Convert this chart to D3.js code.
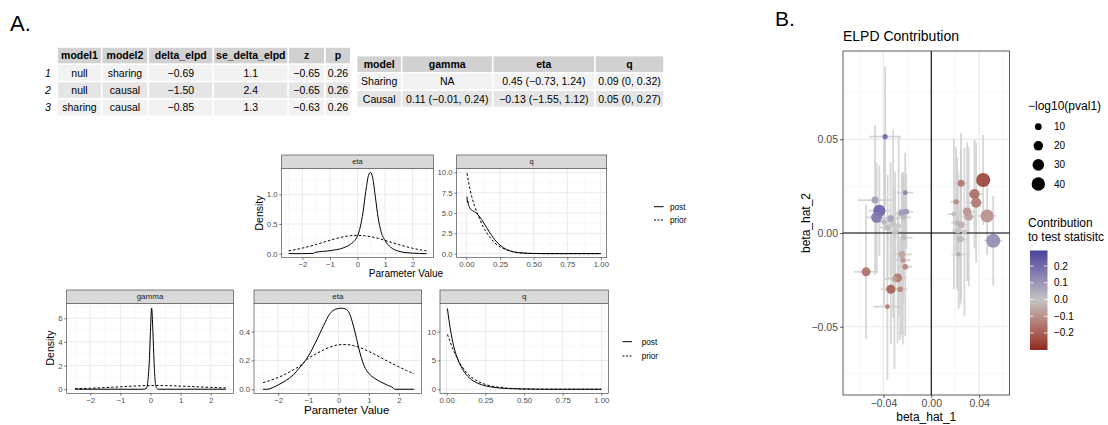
<!DOCTYPE html>
<html><head><meta charset="utf-8">
<script src="https://cdn.jsdelivr.net/npm/d3@7"></script>
<style>
body{margin:0;background:#fff}
svg{display:block}
text{font-family:'Liberation Sans', Arial, Helvetica, sans-serif}
</style>
</head><body>
<script>
// ---------------- DATA ----------------
// Table 1 (model comparison)
const t1Header = ["model1","model2","delta_elpd","se_delta_elpd","z","p"];
const t1RowNames = ["1","2","3"];
const t1Model1 = ["null","null","sharing"];
const t1Model2 = ["sharing","causal","causal"];
const t1Delta = ["−0.69","−1.50","−0.85"];
const t1SE = ["1.1","2.4","1.3"];
const t1Z = ["−0.65","−0.65","−0.63"];
const t1P = ["0.26","0.26","0.26"];

// Table 2 (posterior summaries)
const t2Header = ["model","gamma","eta","q"];
const t2Model = ["Sharing","Causal"];
const t2Gamma = ["NA","0.11 (−0.01, 0.24)"];
const t2Eta = ["0.45 (−0.73, 1.24)","−0.13 (−1.55, 1.12)"];
const t2Q = ["0.09 (0, 0.32)","0.05 (0, 0.27)"];

// Densities: sharing model (upper)
const priorEtaX = [-2.5,-2.25,-2,-1.75,-1.5,-1.25,-1,-0.75,-0.5,-0.25,0,0.25,0.5,0.75,1,1.25,1.5,1.75,2,2.25,2.5];
const shEtaPrior = [0.048,0.068,0.093,0.122,0.155,0.19,0.225,0.258,0.285,0.303,0.308,0.302,0.284,0.257,0.223,0.188,0.153,0.12,0.09,0.066,0.047];
const shEtaPostX = [-2.5,-2,-1.6,-1.55,-1,-0.5,-0.25,0,0.1,0.2,0.3,0.4,0.47,0.55,0.65,0.75,0.85,1.0,1.2,1.5,1.8,2.0,2.5];
const shEtaPost  = [0,0,0.004,0.02,0.05,0.1,0.16,0.3,0.45,0.7,1.05,1.32,1.37,1.28,0.95,0.6,0.38,0.22,0.11,0.04,0.015,0.008,0];
const shQPriorX = [0.005,0.02,0.04,0.06,0.08,0.1,0.125,0.15,0.2,0.25,0.3,0.35,0.4,0.5,0.6,0.8,1.0];
const shQPrior  = [9.9,8.5,7.0,5.9,5.0,4.2,3.3,2.6,1.5,0.85,0.45,0.22,0.1,0.02,0,0,0];
const shQPostX = [0.005,0.008,0.011,0.015,0.02,0.03,0.05,0.07,0.1,0.125,0.15,0.175,0.2,0.25,0.3,0.35,0.4,0.5,0.6,0.8,1.0];
const shQPost  = [7.0,6.3,6.5,6.0,5.8,5.5,5.25,5.05,4.5,3.9,3.2,2.55,1.95,1.05,0.5,0.22,0.1,0.02,0,0,0];

// Densities: causal model (lower)
const caPriorX = [-2.5,-2.25,-2,-1.75,-1.5,-1.25,-1,-0.75,-0.5,-0.25,0,0.25,0.5,0.75,1,1.25,1.5,1.75,2,2.25,2.5];
const caGammaPrior = [0.046,0.062,0.082,0.106,0.135,0.167,0.2,0.24,0.27,0.295,0.308,0.31,0.302,0.285,0.262,0.236,0.208,0.181,0.155,0.13,0.108];
const caGammaPostX = [-2.5,-0.24,-0.14,-0.09,-0.04,0.0,0.04,0.08,0.12,0.16,0.21,0.26,2.5];
const caGammaPost  = [0,0,0.05,0.6,2.3,4.9,6.85,5.0,2.3,0.6,0.08,0,0];
const caEtaPrior = [0.046,0.062,0.082,0.106,0.135,0.167,0.215,0.245,0.273,0.295,0.308,0.31,0.302,0.285,0.262,0.236,0.208,0.181,0.155,0.13,0.108];
const caEtaPostX = [-2.5,-2.35,-2.2,-2,-1.75,-1.5,-1.25,-1,-0.75,-0.5,-0.3,-0.1,0.1,0.25,0.35,0.45,0.55,0.65,0.75,0.85,1.0,1.2,1.4,1.6,1.8,1.85,2.5];
const caEtaPost  = [0,0,0.01,0.03,0.06,0.1,0.16,0.23,0.33,0.44,0.52,0.555,0.562,0.555,0.53,0.47,0.39,0.3,0.22,0.16,0.11,0.075,0.05,0.03,0.01,0,0];
const caQPriorX = [0.005,0.02,0.04,0.06,0.08,0.1,0.125,0.15,0.2,0.25,0.3,0.35,0.4,0.5,0.6,0.7,1.0];
const caQPrior  = [9.5,8.4,7.0,5.8,4.8,3.9,3.0,2.3,1.4,0.85,0.5,0.3,0.18,0.06,0.02,0,0];
const caQPostX = [0.005,0.015,0.03,0.05,0.075,0.1,0.125,0.15,0.2,0.25,0.3,0.35,0.4,0.5,0.6,0.7,1.0];
const caQPost  = [14.0,12.0,9.5,7.0,5.0,3.6,2.6,1.9,1.05,0.6,0.35,0.2,0.12,0.04,0.01,0,0];

// Scatter (panel B)
const beta1 = [-0.0386,-0.0218,-0.047,-0.0434,-0.0457,-0.034,-0.0246,-0.021,-0.0232,-0.0365,-0.0302,-0.0232,-0.0246,-0.0237,-0.0218,-0.0545,-0.0281,-0.0308,-0.0338,-0.026,-0.0367,
               0.0434,0.0249,0.0361,0.0375,0.0207,0.03,0.0313,0.0467,0.0216,0.0249,0.0221,0.0243,0.0518,0.0229,
               -0.0394,-0.0319,-0.0273,0.0189,0.0277];
const beta2 = [0.0514,0.0215,0.0176,0.0119,0.0084,0.0078,0.0108,0.0114,0.0084,0.0029,0.0007,-0.0025,-0.0114,-0.0144,-0.018,-0.0207,-0.0239,-0.0245,-0.030,-0.030,-0.0393,
               0.0283,0.0265,0.0208,0.0162,0.0167,0.0114,0.0087,0.0091,0.0055,0.0043,0.0012,-0.0032,-0.0041,-0.0114,
               0.0059,0.0048,0.0037,0.0101,0.0005];
const ci1 = [0.0134,0.0067,0.0143,0.0092,0.0084,0.0076,0.0067,0.0059,0.0059,0.0067,0.0067,0.0076,0.0084,0.0067,0.0059,0.0101,0.0076,0.0092,0.0084,0.0059,0.0117,
             0.0067,0.0059,0.0067,0.0067,0.005,0.0059,0.0059,0.0076,0.005,0.005,0.005,0.005,0.0076,0.0059,
             0.006,0.005,0.005,0.005,0.005];
const ci2 = [0.0374,0.0213,0.040,0.024,0.029,0.030,0.021,0.020,0.021,0.028,0.032,0.035,0.043,0.045,0.037,0.036,0.035,0.048,0.029,0.027,0.039,
             0.024,0.027,0.029,0.032,0.029,0.037,0.037,0.021,0.035,0.040,0.032,0.035,0.024,0.029,
             0.045,0.050,0.048,0.040,0.045];
const negLogP = [6,5,11,33,27,11,11,7,7,9,9,8,10,6,7,18,17,6,18,7,5,
                 44,11,23,23,6,15,15,38,7,10,7,10,44,4,
                 7,6,6,5,6];
const contrib = [0.2,0.15,0.08,0.22,0.17,0.07,0.09,0.1,0.03,0.02,0.0,-0.02,-0.06,-0.09,-0.13,-0.16,-0.15,-0.07,-0.2,-0.13,-0.14,
                 -0.25,-0.15,-0.17,-0.15,-0.12,-0.09,-0.07,-0.1,-0.03,-0.04,0.0,0.03,0.12,0.06,
                 0.03,0.01,0.0,-0.02,0.0];
const sizeLegendValues = [10,20,30,40];
const colorLegendValues = [0.2,0.1,0.0,-0.1,-0.2];
const scatterXTicks = [-0.04,0,0.04];
const scatterYTicks = [-0.05,0,0.05];

// ---------------- DRAWING ----------------
const svg = d3.select("body").append("svg").attr("width",1108).attr("height",425);

svg.append("text").attr("x",10).attr("y",31).attr("font-size",22).attr("fill","#000").text("A.");
svg.append("text").attr("x",775).attr("y",26).attr("font-size",21).attr("fill","#000").text("B.");

function drawTable(edges, top, rowH, header, columns, rowNames, rowNameX){
  const g = svg.append("g");
  header.forEach((h,i)=>{
    g.append("rect").attr("x",edges[i]).attr("y",top).attr("width",edges[i+1]-edges[i]).attr("height",rowH)
      .attr("fill","#d1d1d1").attr("stroke","#fff").attr("stroke-width",1.5);
    g.append("text").attr("x",(edges[i]+edges[i+1])/2).attr("y",top+rowH/2).attr("dy","0.36em")
      .attr("text-anchor","middle").attr("font-weight","bold").attr("font-size",10.5).attr("fill","#000").text(h);
  });
  const n = columns[0].length;
  for(let r=0;r<n;r++){
    const y0 = top+rowH*(r+1);
    columns.forEach((col,i)=>{
      g.append("rect").attr("x",edges[i]).attr("y",y0).attr("width",edges[i+1]-edges[i]).attr("height",rowH)
        .attr("fill", r%2===0 ? "#f2f2f2" : "#e5e5e5").attr("stroke","#fff").attr("stroke-width",1.5);
      g.append("text").attr("x",(edges[i]+edges[i+1])/2).attr("y",y0+rowH/2).attr("dy","0.36em")
        .attr("text-anchor","middle").attr("font-size",10.5).attr("fill","#000").text(col[r]);
    });
    if(rowNames){
      g.append("text").attr("x",rowNameX).attr("y",y0+rowH/2).attr("dy","0.36em")
        .attr("text-anchor","middle").attr("font-style","italic").attr("font-size",10.5).attr("fill","#000").text(rowNames[r]);
    }
  }
}
drawTable([57.3,101.7,148.3,213.3,288.3,325,350.7], 47, 17.3, t1Header,
  [t1Model1,t1Model2,t1Delta,t1SE,t1Z,t1P], t1RowNames, 48);
drawTable([356.7,401.7,492.7,595,664], 55.6, 17.3, t2Header,
  [t2Model,t2Gamma,t2Eta,t2Q], null, 0);

let clipN = 0;
function facet(o){
  const x = d3.scaleLinear().domain(o.xd).range([o.x0,o.x1]);
  const y = d3.scaleLinear().domain(o.yd).range([o.yb,o.yt]);
  const g = svg.append("g");
  g.append("rect").attr("x",o.x0).attr("y",o.st).attr("width",o.x1-o.x0).attr("height",o.yt-o.st)
    .attr("fill","#d9d9d9").attr("stroke","#333").attr("stroke-width",0.6);
  g.append("text").attr("x",(o.x0+o.x1)/2).attr("y",(o.st+o.yt)/2).attr("dy","0.35em").attr("text-anchor","middle")
    .attr("font-size",o.stripFs).attr("fill","#1a1a1a").text(o.label);
  g.append("rect").attr("x",o.x0).attr("y",o.yt).attr("width",o.x1-o.x0).attr("height",o.yb-o.yt).attr("fill","#fff");
  o.xminor.forEach(v=>g.append("line").attr("x1",x(v)).attr("x2",x(v)).attr("y1",o.yt).attr("y2",o.yb).attr("stroke","#f3f3f3").attr("stroke-width",0.6));
  o.yminor.forEach(v=>g.append("line").attr("y1",y(v)).attr("y2",y(v)).attr("x1",o.x0).attr("x2",o.x1).attr("stroke","#f3f3f3").attr("stroke-width",0.6));
  o.xt.forEach(v=>g.append("line").attr("x1",x(v)).attr("x2",x(v)).attr("y1",o.yt).attr("y2",o.yb).attr("stroke","#ebebeb").attr("stroke-width",1));
  o.yt_.forEach(v=>g.append("line").attr("y1",y(v)).attr("y2",y(v)).attr("x1",o.x0).attr("x2",o.x1).attr("stroke","#ebebeb").attr("stroke-width",1));
  const id = "clip"+(clipN++);
  svg.append("clipPath").attr("id",id).append("rect").attr("x",o.x0).attr("y",o.yt).attr("width",o.x1-o.x0).attr("height",o.yb-o.yt);
  const line = d3.line().x(d=>x(d[0])).y(d=>y(d[1])).curve(d3.curveMonotoneX);
  o.series.forEach(s=>{
    g.append("path").attr("clip-path",`url(#${id})`).attr("d", line(s.x.map((v,i)=>[v,s.y[i]])))
      .attr("fill","none").attr("stroke","#000").attr("stroke-width",o.lw||1)
      .attr("stroke-dasharray", s.dash ? "2.5,2" : null);
  });
  g.append("rect").attr("x",o.x0).attr("y",o.yt).attr("width",o.x1-o.x0).attr("height",o.yb-o.yt)
    .attr("fill","none").attr("stroke","#333").attr("stroke-width",0.6);
  const ax = g.append("g").attr("transform",`translate(0,${o.yb})`)
    .call(d3.axisBottom(x).tickValues(o.xt).tickSize(2.5).tickPadding(1.5).tickFormat(d3.format(o.xf)));
  const ay = g.append("g").attr("transform",`translate(${o.x0},0)`)
    .call(d3.axisLeft(y).tickValues(o.yt_).tickSize(2.5).tickPadding(1.5).tickFormat(d3.format(o.yf)));
  [ax,ay].forEach(a=>{
    a.select(".domain").remove();
    a.selectAll("line").attr("stroke","#333").attr("stroke-width",0.6);
    a.selectAll("text").attr("fill","#4d4d4d").attr("font-size",o.tickFs).style("font-family","'Liberation Sans', Arial, sans-serif");
  });
}

// upper (sharing) facets
facet({x0:281.7,x1:433.3,st:155,yt:168.3,yb:257.7,label:"eta",xd:[-2.75,2.75],yd:[-0.0685,1.4385],
  xt:[-2,-1,0,1,2],xf:"d",yt_:[0,0.5,1.0],yf:".1f",xminor:[-2.5,-1.5,-0.5,0.5,1.5,2.5],yminor:[0.25,0.75,1.25],
  stripFs:7.5,tickFs:7.8,
  series:[{x:shEtaPostX,y:shEtaPost},{x:priorEtaX,y:shEtaPrior,dash:true}]});
facet({x0:456.7,x1:606.7,st:155,yt:168.3,yb:257.7,label:"q",xd:[-0.072,1.043],yd:[-0.5,10.5],
  xt:[0,0.25,0.5,0.75,1],xf:".2f",yt_:[0,2.5,5,7.5,10],yf:".1f",xminor:[0.125,0.375,0.625,0.875],yminor:[1.25,3.75,6.25,8.75],
  stripFs:7.5,tickFs:7.8,
  series:[{x:shQPostX,y:shQPost},{x:shQPriorX,y:shQPrior,dash:true}]});

// lower (causal) facets
facet({x0:66.7,x1:233.3,st:290,yt:303.3,yb:393.3,label:"gamma",xd:[-2.78,2.75],yd:[-0.345,7.27],
  xt:[-2,-1,0,1,2],xf:"d",yt_:[0,2,4,6],yf:"d",xminor:[-2.5,-1.5,-0.5,0.5,1.5,2.5],yminor:[1,3,5,7],
  stripFs:8,tickFs:7.8,
  series:[{x:caGammaPostX,y:caGammaPost},{x:caPriorX,y:caGammaPrior,dash:true}]});
facet({x0:254,x1:421.7,st:290,yt:303.3,yb:393.3,label:"eta",xd:[-2.8,2.75],yd:[-0.028,0.596],
  xt:[-2,-1,0,1,2],xf:"d",yt_:[0,0.2,0.4],yf:".1f",xminor:[-2.5,-1.5,-0.5,0.5,1.5,2.5],yminor:[0.1,0.3,0.5],
  stripFs:8,tickFs:7.8,
  series:[{x:caEtaPostX,y:caEtaPost},{x:caPriorX,y:caEtaPrior,dash:true}]});
facet({x0:440,x1:608.3,st:290,yt:303.3,yb:393.3,label:"q",xd:[-0.043,1.045],yd:[-0.7,14.9],
  xt:[0,0.25,0.5,0.75,1],xf:".2f",yt_:[0,5,10],yf:"d",xminor:[0.125,0.375,0.625,0.875],yminor:[2.5,7.5,12.5],
  stripFs:8,tickFs:7.8,
  series:[{x:caQPostX,y:caQPost},{x:caQPriorX,y:caQPrior,dash:true}]});

// axis titles / legends for density plots
function vtext(x,y,txt,fs){ svg.append("text").attr("transform",`translate(${x},${y}) rotate(-90)`).attr("text-anchor","middle").attr("font-size",fs).attr("fill","#000").text(txt); }
vtext(263,213,"Density",10.5);
vtext(54,348,"Density",10.5);
svg.append("text").attr("x",406).attr("y",276.5).attr("text-anchor","middle").attr("font-size",10).attr("fill","#000").text("Parameter Value");
svg.append("text").attr("x",346.7).attr("y",414).attr("text-anchor","middle").attr("font-size",11.5).attr("fill","#000").text("Parameter Value");

function densLegend(x0,x1,tx,y1,y2,fs){
  [["post",y1,null],["prior",y2,"2,1.5"]].forEach(([lab,y,d])=>{
    svg.append("line").attr("x1",x0).attr("x2",x1).attr("y1",y).attr("y2",y).attr("stroke","#000").attr("stroke-width",1).attr("stroke-dasharray",d);
    svg.append("text").attr("x",tx).attr("y",y).attr("dy","0.35em").attr("font-size",fs).attr("fill","#000").text(lab);
  });
}
densLegend(654,663.5,670,206.7,220,8.2);
densLegend(622.5,632,641.7,341.7,356,8.2);

// ---------------- Panel B scatter ----------------
const bx0=843,bx1=1009.5,by0=51,by1=395;
const sx = d3.scaleLinear().domain([-0.0738,0.0654]).range([bx0,bx1]);
const sy = d3.scaleLinear().domain([-0.0864,0.0971]).range([by1,by0]);
const rScale = d3.scaleSqrt().domain([0,40]).range([0,6.7]);
const cScale = d3.scaleLinear().domain([-0.316,0,0.316]).range(["#8b1c1c","#c4c4c4","#3b3b98"]).interpolate(d3.interpolateLab);

const gb = svg.append("g");
gb.append("rect").attr("x",bx0).attr("y",by0).attr("width",bx1-bx0).attr("height",by1-by0).attr("fill","#fff");
[-0.06,-0.02,0.02,0.06].forEach(v=>gb.append("line").attr("x1",sx(v)).attr("x2",sx(v)).attr("y1",by0).attr("y2",by1).attr("stroke","#f4f4f4").attr("stroke-width",0.7));
[-0.075,-0.025,0.025,0.075].forEach(v=>gb.append("line").attr("y1",sy(v)).attr("y2",sy(v)).attr("x1",bx0).attr("x2",bx1).attr("stroke","#f4f4f4").attr("stroke-width",0.7));
scatterXTicks.forEach(v=>gb.append("line").attr("x1",sx(v)).attr("x2",sx(v)).attr("y1",by0).attr("y2",by1).attr("stroke","#ebebeb").attr("stroke-width",1.2));
scatterYTicks.forEach(v=>gb.append("line").attr("y1",sy(v)).attr("y2",sy(v)).attr("x1",bx0).attr("x2",bx1).attr("stroke","#ebebeb").attr("stroke-width",1.2));

svg.append("clipPath").attr("id","clipB").append("rect").attr("x",bx0).attr("y",by0).attr("width",bx1-bx0).attr("height",by1-by0);
const gpts = gb.append("g").attr("clip-path","url(#clipB)");
const idx = d3.range(beta1.length);
// error bars
idx.forEach(i=>{
  gpts.append("line").attr("x1",sx(beta1[i])).attr("x2",sx(beta1[i])).attr("y1",sy(beta2[i]-ci2[i])).attr("y2",sy(beta2[i]+ci2[i]))
    .attr("stroke","#cfcfcf").attr("stroke-width",1.8).attr("stroke-opacity",0.85);
  gpts.append("line").attr("y1",sy(beta2[i])).attr("y2",sy(beta2[i])).attr("x1",sx(beta1[i]-ci1[i])).attr("x2",sx(beta1[i]+ci1[i]))
    .attr("stroke","#cfcfcf").attr("stroke-width",1.8).attr("stroke-opacity",0.85);
});
// zero lines
gpts.append("line").attr("x1",sx(0)).attr("x2",sx(0)).attr("y1",by0).attr("y2",by1).attr("stroke","#000").attr("stroke-width",1.1);
gpts.append("line").attr("y1",sy(0)).attr("y2",sy(0)).attr("x1",bx0).attr("x2",bx1).attr("stroke","#000").attr("stroke-width",1.1);
// points
idx.forEach(i=>{
  gpts.append("circle").attr("cx",sx(beta1[i])).attr("cy",sy(beta2[i])).attr("r",rScale(negLogP[i]))
    .attr("fill",cScale(contrib[i])).attr("fill-opacity",0.92);
});
gb.append("rect").attr("x",bx0).attr("y",by0).attr("width",bx1-bx0).attr("height",by1-by0).attr("fill","none").attr("stroke","#333").attr("stroke-width",0.8);

const bax = gb.append("g").attr("transform",`translate(0,${by1})`).call(d3.axisBottom(sx).tickValues(scatterXTicks).tickSize(3).tickPadding(2).tickFormat(d3.format(".2f")));
const bay = gb.append("g").attr("transform",`translate(${bx0},0)`).call(d3.axisLeft(sy).tickValues(scatterYTicks).tickSize(3).tickPadding(2).tickFormat(d3.format(".2f")));
[bax,bay].forEach(a=>{
  a.select(".domain").remove();
  a.selectAll("line").attr("stroke","#333").attr("stroke-width",0.8);
  a.selectAll("text").attr("fill","#4d4d4d").attr("font-size",10.5).style("font-family","'Liberation Sans', Arial, sans-serif");
});
svg.append("text").attr("x",(bx0+bx1)/2).attr("y",421).attr("text-anchor","middle").attr("font-size",12).attr("fill","#000").text("beta_hat_1");
vtext(810,223,"beta_hat_2",12);
svg.append("text").attr("x",843).attr("y",41).attr("font-size",14).attr("fill","#000").text("ELPD Contribution");

// size legend
svg.append("text").attr("x",1028).attr("y",110).attr("font-size",12).attr("fill","#000").text("−log10(pval1)");
const sly = d3.scalePoint().domain(sizeLegendValues).range([126.7,184]);
sizeLegendValues.forEach(v=>{
  svg.append("circle").attr("cx",1038.3).attr("cy",sly(v)).attr("r",rScale(v)).attr("fill","#000");
  svg.append("text").attr("x",1054).attr("y",sly(v)).attr("dy","0.35em").attr("font-size",10).attr("fill","#000").text(v);
});

// colour legend
svg.append("text").attr("x",1028).attr("y",227).attr("font-size",12).attr("fill","#000").text("Contribution");
svg.append("text").attr("x",1028).attr("y",240.5).attr("font-size",12).attr("fill","#000").text("to test statisitc");
const cby = d3.scaleLinear().domain([-0.302,0.293]).range([350,250.5]);
const grad = svg.append("defs").append("linearGradient").attr("id","cbar").attr("x1",0).attr("x2",0).attr("y1",1).attr("y2",0);
d3.range(0,21).forEach(k=>{
  const v = -0.302 + k*(0.595/20);
  grad.append("stop").attr("offset",(k/20)).attr("stop-color",cScale(v));
});
svg.append("rect").attr("x",1030).attr("y",250.5).attr("width",17.5).attr("height",99.5).attr("fill","url(#cbar)");
colorLegendValues.forEach(v=>{
  const yy = cby(v);
  svg.append("line").attr("x1",1030).attr("x2",1033.5).attr("y1",yy).attr("y2",yy).attr("stroke","#fff").attr("stroke-width",0.8);
  svg.append("line").attr("x1",1044).attr("x2",1047.5).attr("y1",yy).attr("y2",yy).attr("stroke","#fff").attr("stroke-width",0.8);
  svg.append("text").attr("x",1054).attr("y",yy).attr("dy","0.35em").attr("font-size",10).attr("fill","#000").text(d3.format(".1f")(v));
});
</script>
</body></html>
